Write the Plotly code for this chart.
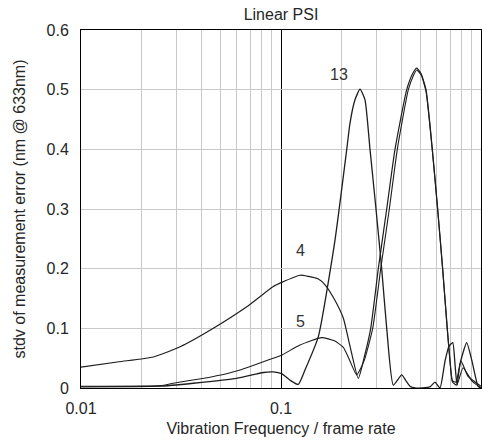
import math
import plotly.graph_objects as go

# Vibration frequency (fraction of frame rate) and stdv of measurement error (nm @ 633nm)
freq_4 = [0.01, 0.0155, 0.023, 0.0313, 0.0459, 0.0674, 0.0915, 0.1008, 0.1245, 0.137,
          0.153, 0.166, 0.184, 0.205, 0.2213, 0.2435, 0.26, 0.2809, 0.3066, 0.3377,
          0.3715, 0.4252, 0.4556, 0.4768, 0.501, 0.5309, 0.571, 0.6074, 0.6433, 0.6783,
          0.70, 0.72, 0.75, 0.795, 0.86, 1.0]
err_4 = [0.035, 0.044, 0.052, 0.069, 0.100, 0.136, 0.170, 0.177, 0.189, 0.187,
         0.183, 0.173, 0.150, 0.117, 0.070, 0.016, 0.050, 0.100, 0.200, 0.300,
         0.400, 0.500, 0.527, 0.536, 0.527, 0.500, 0.400, 0.300, 0.200, 0.100,
         0.046, 0.012, 0.010, 0.045, 0.020, 0.003]

freq_5 = [0.01, 0.025, 0.0289, 0.0405, 0.0535, 0.0624, 0.0915, 0.1, 0.1245, 0.1598,
          0.185, 0.205, 0.2213, 0.2391, 0.26, 0.2874, 0.3152, 0.348, 0.3815, 0.4331,
          0.4600, 0.4768, 0.503, 0.5309, 0.571, 0.6074, 0.6433, 0.6783, 0.70, 0.72,
          0.757, 0.813, 0.9, 1.0]
err_5 = [0.003, 0.004, 0.008, 0.016, 0.024, 0.030, 0.050, 0.0545, 0.072, 0.0845,
         0.079, 0.068, 0.045, 0.022, 0.045, 0.100, 0.200, 0.300, 0.400, 0.500,
         0.524, 0.533, 0.524, 0.497, 0.398, 0.298, 0.198, 0.098, 0.044, 0.010,
         0.005, 0.034, 0.012, 0.0]

freq_13 = [0.01, 0.0248, 0.0364, 0.060, 0.0816, 0.0915, 0.1008, 0.111, 0.122, 0.1318,
           0.1537, 0.1862, 0.213, 0.2213, 0.2344, 0.2483, 0.263, 0.2786, 0.2985, 0.3187,
           0.3377, 0.3643, 0.4014, 0.4217, 0.4416, 0.4677, 0.5559, 0.5888, 0.6237, 0.6607,
           0.6918, 0.7222, 0.7413, 0.7586, 0.785, 0.848, 0.9016, 0.966, 1.0]
err_13 = [0.002, 0.003, 0.008, 0.016, 0.026, 0.027, 0.024, 0.013, 0.006, 0.030,
          0.086, 0.248, 0.399, 0.444, 0.483, 0.501, 0.483, 0.400, 0.300, 0.200,
          0.100, 0.005, 0.022, 0.012, 0.003, 0.0, 0.002, 0.010, 0.0, 0.045,
          0.070, 0.076, 0.040, 0.005, 0.040, 0.076, 0.045, 0.003, 0.0]

# Frame-count labels placed beside their curves
label_text = ["13", "4", "5"]
label_x = [0.195, 0.1245, 0.1245]
label_y = [0.525, 0.231, 0.111]

x_tick_vals = [0.01, 0.1, 1]
x_tick_text = ["0.01", "0.1", "1"]
y_tick_vals = [0, 0.1, 0.2, 0.3, 0.4, 0.5, 0.6]
y_tick_text = ["0", "0.1", "0.2", "0.3", "0.4", "0.5", "0.6"]

FONT = "Liberation Sans, Arial, sans-serif"
LINE = "#1e1e1e"
TEXT = "#262626"

fig = go.Figure()
for fx, fy, w in [(freq_4, err_4, 1.2), (freq_5, err_5, 1.1), (freq_13, err_13, 1.3)]:
    fig.add_trace(go.Scatter(
        x=fx, y=fy, mode="lines",
        line=dict(color=LINE, width=w, shape="spline", smoothing=0.5),
        showlegend=False, hoverinfo="skip",
    ))

# annotation x positions on a log axis are given in log10 units
for t, lx, ly in zip(label_text, label_x, label_y):
    fig.add_annotation(x=math.log10(lx), y=ly, xref="x", yref="y", text=t,
                       showarrow=False,
                       font=dict(family=FONT, size=16, color="#333333"))

fig.update_layout(
    width=482, height=440,
    margin=dict(l=81, r=1, t=30, b=52, autoexpand=False),
    paper_bgcolor="white", plot_bgcolor="white",
    font=dict(family=FONT, size=16, color=TEXT),
    title=dict(text="Linear PSI", x=0.5, xref="paper", xanchor="center",
               y=1 - 14 / 440, yref="container", yanchor="middle",
               font=dict(family=FONT, size=16, color=TEXT)),
)

fig.update_xaxes(
    type="log", range=[-2, 0],
    tickmode="array", tickvals=x_tick_vals, ticktext=x_tick_text,
    showgrid=True, gridcolor="black", gridwidth=1,
    minor=dict(dtick="D1", showgrid=True, gridcolor="#c8c8c8", gridwidth=1, ticks=""),
    showline=True, linecolor="black", linewidth=1, mirror=True,
    ticks="", ticklabelstandoff=6, zeroline=False,
    title=dict(text="Vibration Frequency / frame rate", standoff=6,
               font=dict(family=FONT, size=16, color=TEXT)),
    tickfont=dict(family=FONT, size=16, color=TEXT),
)

fig.update_yaxes(
    range=[0, 0.6],
    tickmode="array", tickvals=y_tick_vals, ticktext=y_tick_text,
    showgrid=True, gridcolor="#c8c8c8", gridwidth=1,
    showline=True, linecolor="black", linewidth=1, mirror=True,
    ticks="", ticklabelstandoff=8, zeroline=False,
    title=dict(text="stdv of measurement error (nm @ 633nm)", standoff=16,
               font=dict(family=FONT, size=16, color=TEXT)),
    tickfont=dict(family=FONT, size=16, color=TEXT),
)

fig.write_html("out.html")
